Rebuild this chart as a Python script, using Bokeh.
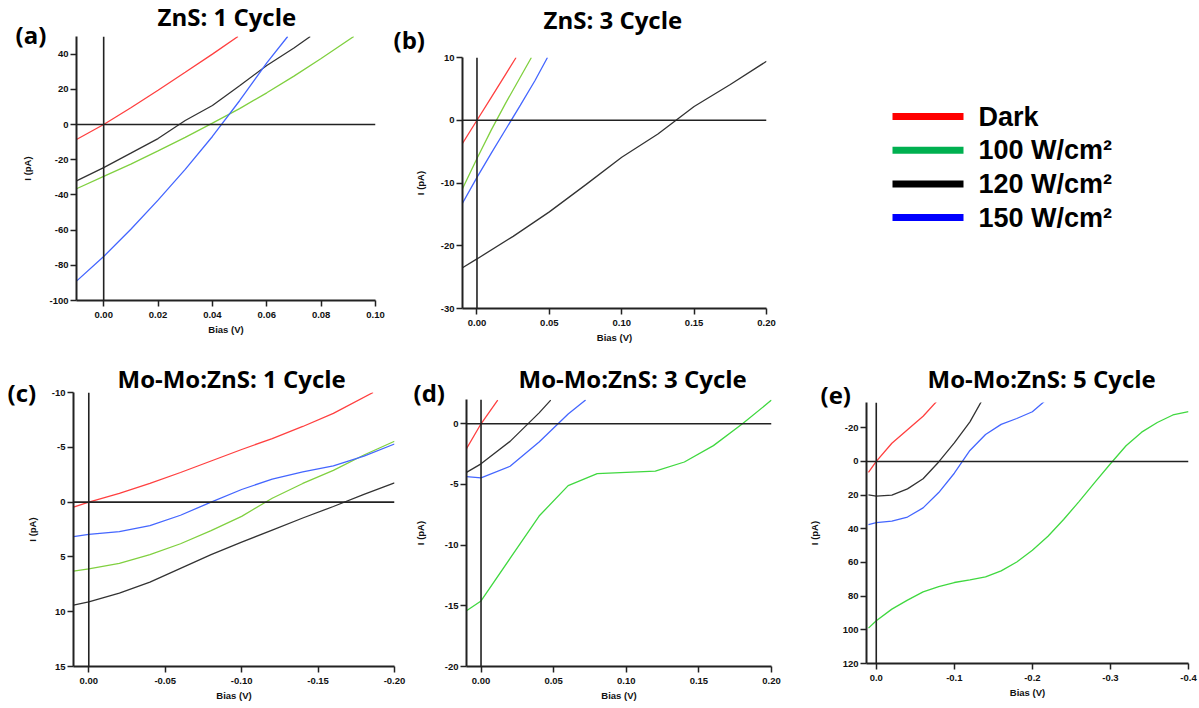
from bokeh.plotting import figure
from bokeh.layouts import row, column
from bokeh.models import Range1d, FixedTicker, PrintfTickFormatter, Span, Title
from bokeh.core.properties import value
from bokeh.embed import file_html
from bokeh.resources import INLINE

# ---------------- data ----------------
series_names = ["Dark", "100 W/cm\u00b2", "120 W/cm\u00b2", "150 W/cm\u00b2"]
legend_colors = ["#ff0000", "#00b050", "#000000", "#0000ff"]

# (a) ZnS: 1 Cycle
a_bias_dark = [-0.01, 0.0, 0.01, 0.02, 0.03, 0.04, 0.0494]
a_dark = [-8.5, 0.0, 9.5, 19.5, 29.7, 40.0, 50.0]
a_bias_100 = [-0.01, 0.0, 0.01, 0.02, 0.03, 0.04, 0.05, 0.06, 0.07, 0.08, 0.092]
a_100 = [-36.5, -29.5, -22.5, -15.0, -7.3, 0.8, 9.0, 18.0, 27.5, 37.5, 50.0]
a_bias_120 = [-0.01, 0.0, 0.01, 0.02, 0.03, 0.04, 0.05, 0.06, 0.07, 0.076]
a_120 = [-32.0, -24.5, -16.3, -8.0, 2.3, 10.8, 22.0, 33.5, 43.5, 50.0]
a_bias_150 = [-0.01, 0.0, 0.01, 0.02, 0.03, 0.04, 0.05, 0.06, 0.0677]
a_150 = [-89.0, -75.0, -59.5, -43.0, -25.5, -6.8, 13.5, 35.0, 50.0]
a_xticks = [0.0, 0.02, 0.04, 0.06, 0.08, 0.10]
a_yticks = [40, 20, 0, -20, -40, -60, -80, -100]

# (b) ZnS: 3 Cycle
b_bias_dark = [-0.01, 0.0, 0.01, 0.02, 0.027]
b_dark = [-3.7, 0.0, 3.7, 7.4, 10.0]
b_bias_100 = [-0.01, 0.0, 0.01, 0.02, 0.03, 0.0376]
b_100 = [-10.9, -6.1, -1.5, 2.8, 6.9, 10.0]
b_bias_120 = [-0.01, 0.0, 0.025, 0.05, 0.075, 0.10, 0.125, 0.15, 0.175, 0.20]
b_120 = [-23.5, -22.1, -18.5, -14.6, -10.3, -5.9, -2.2, 2.2, 5.7, 9.4]
b_bias_150 = [-0.01, 0.0, 0.01, 0.02, 0.03, 0.04, 0.0487]
b_150 = [-13.2, -9.1, -5.2, -1.4, 2.4, 6.3, 10.0]
b_xticks = [0.0, 0.05, 0.10, 0.15, 0.20]
b_yticks = [10, 0, -10, -20, -30]

# (c) Mo-Mo:ZnS: 1 Cycle
c_bias_dark = [0.01, 0.0, -0.02, -0.04, -0.06, -0.08, -0.10, -0.12, -0.14, -0.16, -0.186]
c_dark = [0.45, 0.0, -0.8, -1.7, -2.7, -3.75, -4.8, -5.8, -6.9, -8.1, -10.0]
c_bias = [0.01, 0.0, -0.02, -0.04, -0.06, -0.08, -0.10, -0.12, -0.14, -0.16, -0.18, -0.20]
c_100 = [6.3, 6.1, 5.6, 4.8, 3.8, 2.6, 1.3, -0.35, -1.7, -2.9, -4.3, -5.55]
c_120 = [9.4, 9.1, 8.3, 7.3, 6.05, 4.8, 3.65, 2.55, 1.45, 0.4, -0.7, -1.75]
c_150 = [3.15, 2.95, 2.7, 2.15, 1.2, 0.0, -1.15, -2.1, -2.75, -3.3, -4.2, -5.3]
c_xticks = [0.0, -0.05, -0.10, -0.15, -0.20]
c_yticks = [-10, -5, 0, 5, 10, 15]

# (d) Mo-Mo:ZnS: 3 Cycle
d_bias_dark = [-0.01, 0.0, 0.0115]
d_dark = [-2.05, 0.0, 1.95]
d_bias_100 = [-0.01, 0.0, 0.02, 0.04, 0.06, 0.08, 0.10, 0.12, 0.14, 0.16, 0.18, 0.20]
d_100 = [-15.4, -14.6, -11.1, -7.6, -5.1, -4.1, -4.0, -3.9, -3.15, -1.8, 0.0, 1.95]
d_bias_120 = [-0.01, 0.0, 0.02, 0.04, 0.048]
d_120 = [-4.0, -3.3, -1.45, 0.9, 1.95]
d_bias_150 = [-0.01, 0.0, 0.02, 0.04, 0.06, 0.072]
d_150 = [-4.35, -4.45, -3.5, -1.5, 0.8, 1.95]
d_xticks = [0.0, 0.05, 0.10, 0.15, 0.20]
d_yticks = [0, -5, -10, -15, -20]

# (e) Mo-Mo:ZnS: 5 Cycle
e_bias_dark = [0.01, 0.0, -0.02, -0.04, -0.06, -0.08]
e_dark = [6.5, 0.0, -10.8, -18.8, -26.8, -37.0]
e_bias_100 = [0.01, 0.0, -0.02, -0.04, -0.06, -0.08, -0.10, -0.12, -0.14, -0.16, -0.18,
              -0.20, -0.22, -0.24, -0.26, -0.28, -0.30, -0.32, -0.34, -0.36, -0.38, -0.40]
e_100 = [99.0, 94.6, 87.7, 82.4, 77.5, 74.3, 71.9, 70.3, 68.6, 65.0, 59.7,
         52.8, 44.4, 34.5, 23.7, 12.4, 1.4, -9.3, -17.4, -23.1, -27.6, -29.6]
e_bias_120 = [0.01, 0.0, -0.02, -0.04, -0.06, -0.08, -0.10, -0.12, -0.14]
e_120 = [19.8, 20.6, 20.0, 16.3, 10.3, 0.3, -11.0, -23.5, -40.0]
e_bias_150 = [0.01, 0.0, -0.02, -0.04, -0.06, -0.08, -0.10, -0.12, -0.14, -0.16, -0.18, -0.20, -0.22]
e_150 = [37.5, 36.3, 35.5, 33.0, 27.6, 18.5, 7.0, -6.5, -16.0, -22.0, -25.5, -29.5, -37.5]
e_xticks = [0.0, -0.1, -0.2, -0.3, -0.4]
e_yticks = [-20, 0, 20, 40, 60, 80, 100, 120]

# ---------------- styles ----------------
RED = "#ff4040"
YGREEN = "#80d040"
GREEN = "#40d840"
BLACK = "#333333"
BLUE = "#4466ff"
TICK_FONT = "Liberation Sans"
TITLE_FONT = "Open Sans"
TITLE_SIZE = "24px"
TEXT_H = 28.0      # assumed rendered text box height of the 24px titles
LETTER_C = 12.0    # visual centre of "(a)" above the box bottom
TITLE_C = 14.4     # visual centre of the title above the box bottom


def make_panel(width, height, borders, xr, yr, xticks, yticks, xfmt, ylab_standoff,
               title, title_left, title_cy, letter, letter_left, letter_cy, series):
    left, right, top, bottom = borders
    p = figure(width=width, height=height, output_backend="svg", toolbar_location=None,
               x_range=Range1d(*xr), y_range=Range1d(*yr), title_location=None,
               min_border_left=left, min_border_right=right,
               min_border_top=top, min_border_bottom=bottom)
    p.frame_align = False
    p.outline_line_color = None
    p.grid.visible = False
    p.background_fill_color = "white"
    p.border_fill_color = "white"
    for x, y, c in series:
        p.line(x, y, line_color=c, line_width=1.3)
    p.add_layout(Span(location=0, dimension="width", line_color="#222222", line_width=1.6))
    p.add_layout(Span(location=0, dimension="height", line_color="#222222", line_width=1.6))
    p.xaxis.ticker = FixedTicker(ticks=xticks)
    p.yaxis.ticker = FixedTicker(ticks=yticks)
    p.xaxis.formatter = PrintfTickFormatter(format=xfmt)
    p.yaxis.formatter = PrintfTickFormatter(format="%d")
    p.xaxis.axis_label = "Bias (V)"
    p.yaxis.axis_label = "I (pA)"
    for ax in (p.xaxis, p.yaxis):
        ax.axis_line_width = 2
        ax.axis_line_color = "#222222"
        ax.major_tick_line_color = "#222222"
        ax.major_tick_line_width = 1.5
        ax.major_tick_out = 6
        ax.major_tick_in = 0
        ax.minor_tick_line_color = None
        ax.major_label_text_font = TICK_FONT
        ax.major_label_text_font_style = "bold"
        ax.major_label_text_font_size = "9.5px"
        ax.major_label_text_color = "#111111"
        ax.axis_label_text_font = TICK_FONT
        ax.axis_label_text_font_style = "bold"
        ax.axis_label_text_font_size = "9.5px"
        ax.axis_label_text_color = "#111111"
    p.xaxis.major_label_standoff = 5
    p.xaxis.axis_label_standoff = 3
    p.yaxis.major_label_standoff = 2
    p.yaxis.axis_label_standoff = ylab_standoff

    # titles in the top side panel: letter first (closest to the frame), then main title
    frame_top = top
    s1 = 2.0 * (frame_top - LETTER_C - letter_cy)
    h1 = 2.0 + TEXT_H + s1
    s2 = 2.0 * (frame_top - h1 - TITLE_C - title_cy)
    p.add_layout(Title(text=letter, align="left", offset=letter_left - left, standoff=s1,
                       vertical_align="bottom", text_font=TITLE_FONT, text_font_style="bold",
                       text_font_size=TITLE_SIZE, text_color="#000000"), "above")
    p.add_layout(Title(text=title, align="left", offset=title_left - left, standoff=s2,
                       vertical_align="bottom", text_font=TITLE_FONT, text_font_style="bold",
                       text_font_size=TITLE_SIZE, text_color="#000000"), "above")
    return p


# canvas-relative positions (x from figure's left, y from figure's top)
pa = make_panel(390, 355, (76, 15, 36, 55), (-0.01, 0.10), (-100, 50), a_xticks, a_yticks, "%.2f", 13,
                "ZnS: 1 Cycle", 157, 23.5, "(a)", 15, 38.5,
                [(a_bias_dark, a_dark, RED), (a_bias_120, a_120, BLACK),
                 (a_bias_100, a_100, YGREEN), (a_bias_150, a_150, BLUE)])

pb = make_panel(410, 355, (72, 34, 57, 47), (-0.01, 0.20), (-30, 10), b_xticks, b_yticks, "%.2f", 12,
                "ZnS: 3 Cycle", 153, 26, "(b)", 3, 43,
                [(b_bias_dark, b_dark, RED), (b_bias_120, b_120, BLACK),
                 (b_bias_100, b_100, YGREEN), (b_bias_150, b_150, BLUE)])

# legend panel
LEG_W, LEG_H = 399, 355
pl = figure(width=LEG_W, height=LEG_H, output_backend="svg", toolbar_location=None,
            x_range=Range1d(0, LEG_W), y_range=Range1d(LEG_H, 0),
            x_axis_location=None, y_axis_location=None, title_location=None,
            min_border=0, min_border_left=0, min_border_right=0,
            min_border_top=0, min_border_bottom=0)
pl.frame_align = False
pl.outline_line_color = None
pl.grid.visible = False
leg_y0, leg_dy = 116, 33.7
leg_ys = [leg_y0 + i * leg_dy for i in range(len(series_names))]
pl.segment(x0=[92] * len(leg_ys), x1=[163] * len(leg_ys), y0=leg_ys, y1=leg_ys,
           line_color=legend_colors, line_width=7)
pl.text(x=[178] * len(leg_ys), y=leg_ys, text=series_names,
        text_font=value(TICK_FONT), text_font_style="bold", text_font_size="27px",
        text_baseline="middle", text_align="left", text_color="#000000")

pc = make_panel(410, 353, (73, 16, 37, 42), (0.01, -0.20), (15, -10), c_xticks, c_yticks, "%.2f", 11,
                "Mo-Mo:ZnS: 1 Cycle", 117, 30, "(c)", 7, 41,
                [(c_bias_dark, c_dark, RED), (c_bias, c_120, BLACK),
                 (c_bias, c_100, YGREEN), (c_bias, c_150, BLUE)])

pd_ = make_panel(390, 353, (56, 29, 44, 42), (-0.01, 0.20), (-20, 2), d_xticks, d_yticks, "%.2f", 16,
                 "Mo-Mo:ZnS: 3 Cycle", 108, 30, "(d)", 3, 41,
                 [(d_bias_dark, d_dark, RED), (d_bias_120, d_120, BLACK),
                  (d_bias_100, d_100, GREEN), (d_bias_150, d_150, BLUE)])

pe = make_panel(399, 353, (66, 11, 47, 45), (0.0125, -0.40), (120, -35), e_xticks, e_yticks, "%.1f", 20,
                "Mo-Mo:ZnS: 5 Cycle", 127, 30, "(e)", 20, 43,
                [(e_bias_dark, e_dark, RED), (e_bias_120, e_120, BLACK),
                 (e_bias_100, e_100, GREEN), (e_bias_150, e_150, BLUE)])

layout = column(row(pa, pb, pl), row(pc, pd_, pe))
open("out.html", "w").write(file_html(layout, INLINE))
